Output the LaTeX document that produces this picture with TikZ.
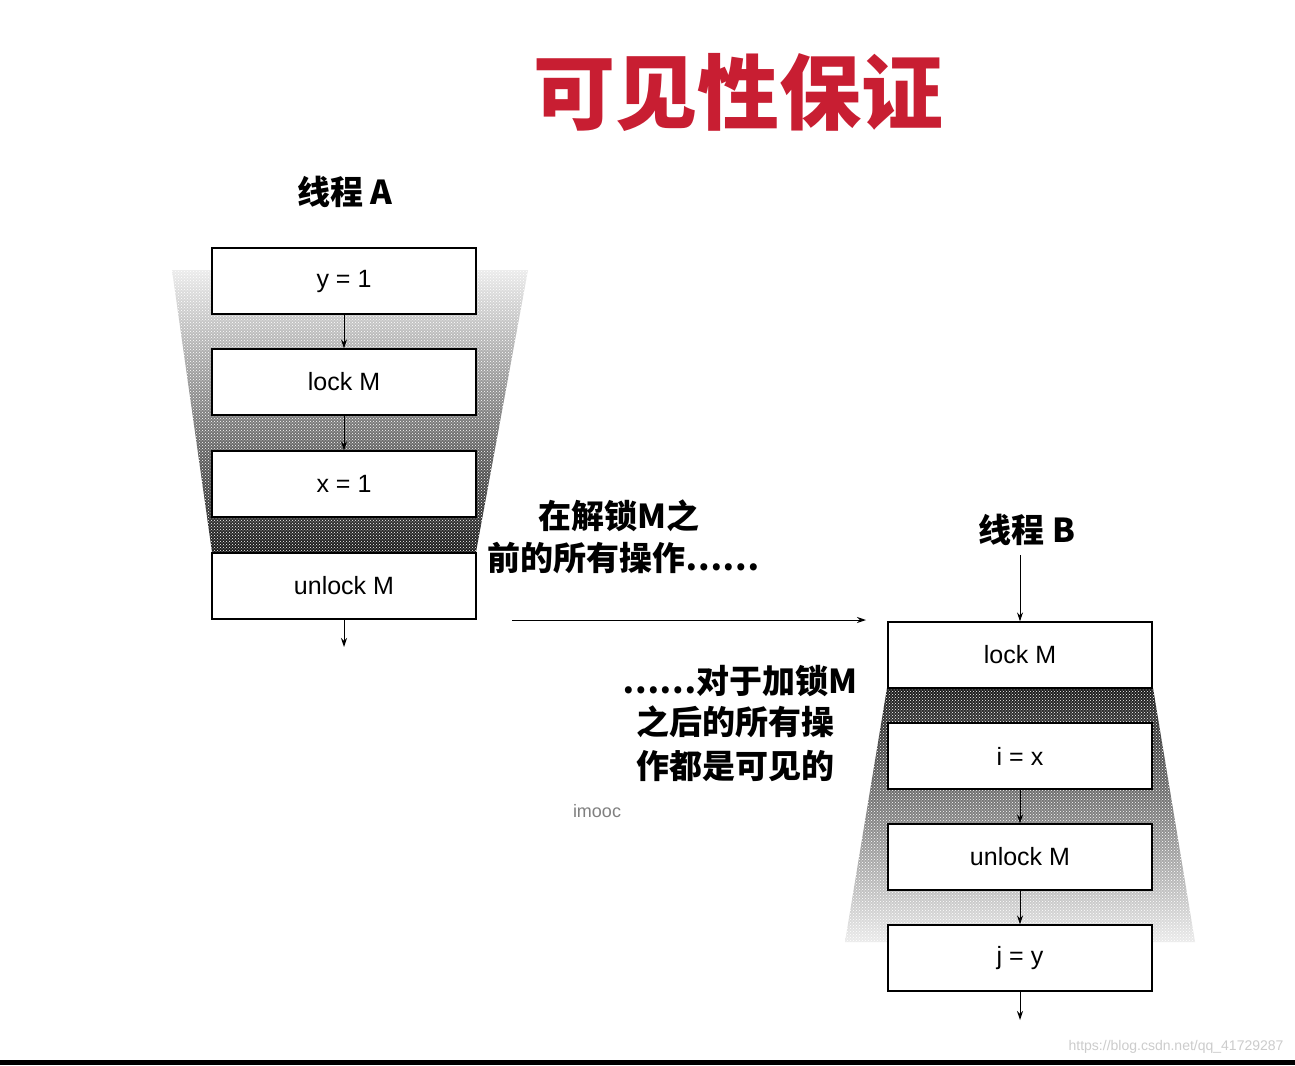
\documentclass[tikz,border=0pt]{standalone}
\usepackage{fontspec}
\setsansfont{Liberation Sans}
\newfontfamily\cjk{Noto Sans CJK SC}
\usetikzlibrary{patterns,arrows.meta}
\tikzset{
 codebox/.style={draw=black,line width=1.2pt,fill=white,minimum width=264pt,minimum height=66pt,font=\sffamily\fontsize{25}{28}\selectfont},
 lbl/.style={font=\cjk\bfseries\fontsize{33}{38}\selectfont,inner sep=0pt},
 arr/.style={-{Stealth[length=9pt,width=6pt]},line width=1pt}
}
\begin{document}
\begin{tikzpicture}[x=1pt,y=-1pt]
\useasboundingbox (0,0) rectangle (1295,1065);
\fill[white] (0,0) rectangle (1295,1065);
% stippled funnels
\shade[top color=gray!15,bottom color=black!90] (172,270) -- (528,270) -- (476,552) -- (212,552) -- cycle;
\fill[pattern=crosshatch dots,pattern color=white] (172,270) -- (528,270) -- (476,552) -- (212,552) -- cycle;
\shade[top color=black!90,bottom color=gray!15] (887,688) -- (1153,688) -- (1195,942) -- (845,942) -- cycle;
\fill[pattern=crosshatch dots,pattern color=white] (887,688) -- (1153,688) -- (1195,942) -- (845,942) -- cycle;
% title
\node[font=\cjk\bfseries\fontsize{82}{94}\selectfont,text={rgb,255:red,200;green,30;blue,50}] (title) at (738,92) {可见性保证};
% thread A
\node[lbl] (ta) at (345,192) {线程 A};
\node[codebox] (a1) at (344,281) {y = 1};
\node[codebox] (a2) at (344,382) {lock M};
\node[codebox] (a3) at (344,484) {x = 1};
\node[codebox] (a4) at (344,586) {unlock M};
\coordinate (aend) at (344,647);
\draw[arr] (a1) -- (a2);
\draw[arr] (a2) -- (a3);
\draw[arr] (a4) -- (aend);
% thread B
\node[lbl] (tb) at (1027,530) {线程 B};
\node[codebox] (b1) at (1020,655) {lock M};
\node[codebox] (b2) at (1020,756) {i = x};
\node[codebox] (b3) at (1020,857) {unlock M};
\node[codebox] (b4) at (1020,958) {j = y};
\coordinate (bstart) at (1020,555);
\coordinate (bend) at (1020,1020);
\draw[arr] (bstart) -- (b1);
\draw[arr] (b2) -- (b3);
\draw[arr] (b3) -- (b4);
\draw[arr] (b4) -- (bend);
% middle
\node[lbl,anchor=west] (m1) at (538,516) {在解锁M之};
\node[lbl,anchor=west] (m2) at (487,558) {前的所有操作……};
\coordinate (hs) at (512,620);
\coordinate (he) at (866,620);
\draw[arr] (hs) -- (he);
\node[lbl,anchor=east] (n1) at (858,681) {……对于加锁M};
\node[lbl,anchor=west] (n2) at (636,722) {之后的所有操};
\node[lbl,anchor=west] (n3) at (636,766) {作都是可见的};
\node[font=\sffamily\fontsize{18}{20}\selectfont,text=gray] (im) at (597,811) {imooc};
\node[font=\sffamily\fontsize{14}{16}\selectfont,text=gray!40,anchor=east] (wm) at (1287,1047) {https://blog.csdn.net/qq\_41729287};
\fill[black] (0,1060) rectangle (1295,1065);
\end{tikzpicture}
\end{document}
